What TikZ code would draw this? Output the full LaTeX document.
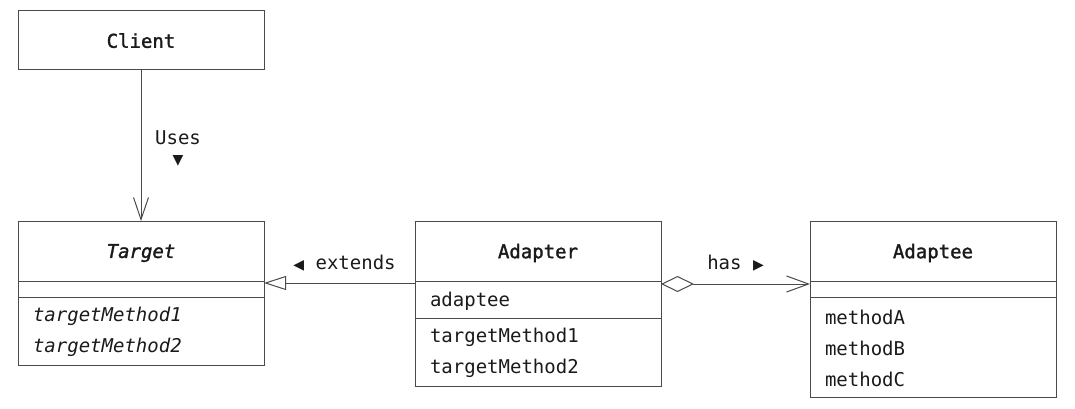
\documentclass[tikz,border=0pt]{standalone}
\usepackage{fontspec}
\setmonofont{DejaVu Sans Mono}
\newfontfamily\namefont{DejaVu Sans Mono}[BoldFont={DejaVu Sans Mono}, BoldFeatures={FakeBold=1.6}, BoldItalicFont={DejaVu Sans Mono Oblique}, BoldItalicFeatures={FakeBold=1.6}]
\newfontfamily\symfont{DejaVu Sans}
\usetikzlibrary{positioning,arrows.meta}
\definecolor{umlline}{HTML}{4A4A4A}
\definecolor{umltext}{HTML}{1A1A1A}
\begin{document}
\begin{tikzpicture}[
        x=1pt, y=-1pt,
        node distance=0pt,
        every node/.style={font=\ttfamily\fontsize{19}{31}\selectfont, text=umltext},
        classname/.style={draw=umlline, line width=1pt, outer sep=0pt, inner sep=0pt, minimum width=246pt, minimum height=60pt, text depth=0pt, font=\namefont\bfseries\fontsize{19}{31}\selectfont},
        classpart/.style={draw=umlline, line width=1pt, outer sep=0pt, inner xsep=15pt, inner ysep=0pt, text width=216pt, align=left},
        classitems/.style={classpart, execute at begin node=\rule{0pt}{17pt}},
        uses/.style={-{Straight Barb[length=22pt, width=15pt]}, line width=1pt, draw=umlline},
        extends/.style={-{Triangle[open, length=22pt, width=14pt, fill=white]}, line width=1pt, draw=umlline},
        has/.style={{Diamond[open, length=33pt, width=16pt, fill=white]}-{Straight Barb[length=22pt, width=16pt]}, line width=1pt, draw=umlline}
        ]
        \useasboundingbox (0,0) rectangle (1075,409);

        \node[classname, anchor=north west, minimum height=59pt] (client) at (18,11) {Client};

        \node[classname, anchor=north west] (targetname) at (18,221) {\itshape Target};
        \node[classpart, minimum height=16pt, below=of targetname] (targetattr) {};
        \node[classitems, minimum height=68pt, below=of targetattr] (targetops) {\itshape targetMethod1\\\itshape targetMethod2};

        \node[classname, anchor=north west] (adaptername) at (415,221) {Adapter};
        \node[classitems, minimum height=37pt, below=of adaptername] (adapterattr) {adaptee};
        \node[classitems, minimum height=68pt, below=of adapterattr] (adapterops) {targetMethod1\\targetMethod2};

        \node[classname, anchor=north west] (adapteename) at (810,221) {Adaptee};
        \node[classpart, minimum height=16pt, below=of adapteename] (adapteeattr) {};
        \node[classitems, minimum height=100pt, below=of adapteeattr] (adapteeops) {methodA\\methodB\\methodC};

        \draw[uses] (client) -- node[midway, xshift=37pt, yshift=-3pt, align=center, font=\ttfamily\fontsize{19}{20}\selectfont] {Uses\\{\symfont\fontsize{14}{14}\selectfont ▼}} (targetname);
        \draw[extends] ([yshift=-2pt]adaptername.south west) -- node[midway, xshift=5pt, yshift=20pt] {{\symfont\fontsize{14}{14}\selectfont ◀} extends} ([yshift=-2pt]targetname.south east);
        \draw[has] ([yshift=-3pt]adaptername.south east) -- node[midway, yshift=21pt] {has {\symfont\fontsize{14}{14}\selectfont ▶}} ([yshift=-3pt]adapteename.south west);
    \end{tikzpicture}
\end{document}
